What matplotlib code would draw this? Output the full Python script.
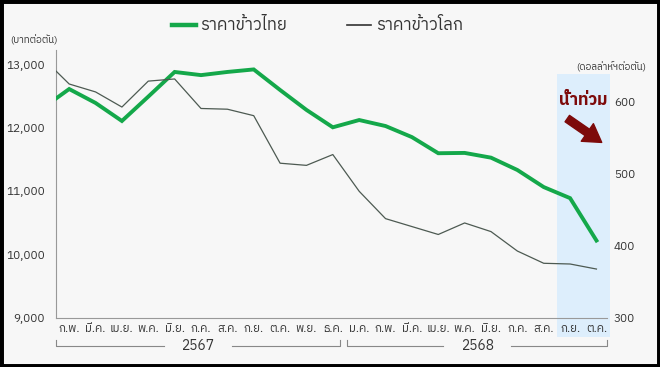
import numpy as np
import matplotlib
matplotlib.use("Agg")
import matplotlib.pyplot as plt
from matplotlib import font_manager
from matplotlib.ft2font import FT2Font
from matplotlib.patches import Rectangle, FancyArrowPatch
import matplotlib.transforms as mtransforms

# ---------------- data ----------------
months = ["ก.พ.", "มี.ค.", "เม.ย.", "พ.ค.", "มิ.ย.", "ก.ค.", "ส.ค.", "ก.ย.", "ต.ค.", "พ.ย.", "ธ.ค.",
          "ม.ค.", "ก.พ.", "มี.ค.", "เม.ย.", "พ.ค.", "มิ.ย.", "ก.ค.", "ส.ค.", "ก.ย.", "ต.ค."]
years = ["2567", "2568"]
year_months = [11, 10]
# first value is the start of the line at the left edge (half a month before ก.พ.)
thai_price = [12470, 12620, 12400, 12115, 12500, 12890, 12840, 12890, 12930, 12605, 12290, 12015,
              12130, 12035, 11860, 11605, 11610, 11535, 11340, 11070, 10895, 10225]
world_price = [643, 625, 614, 593, 629, 632, 591, 590, 581, 515, 512, 527,
               476, 438, 427, 416, 432, 420, 393, 376, 375, 368]
left_ticks = [9000, 10000, 11000, 12000, 13000]
right_ticks = [300, 400, 500, 600]
flood_months = [19, 20]

# ---------------- fonts ----------------
def find_thai_font():
    best = None
    for f in font_manager.fontManager.ttflist:
        try:
            cm = FT2Font(f.fname).get_charmap()
        except Exception:
            continue
        if 0x0E32 in cm and 0x0E49 in cm and 0x0E01 in cm:
            score = 0
            n = f.name.lower()
            if "thai" in n: score += 2
            if "sans" in n: score += 1
            if best is None or score > best[0]:
                best = (score, f.name)
    return best[1] if best else None

thai = find_thai_font()
fam = ([thai] if thai else []) + ["DejaVu Sans"]
plt.rcParams["font.family"] = fam

BG = "#f7f7f7"
GREEN = "#14a84a"
GRAY = "#4d5a52"
TXT = "#333333"
DARKRED = "#7d0a0a"

W, H = 660, 367
fig = plt.figure(figsize=(W / 100, H / 100), dpi=100, facecolor=BG)
ax = fig.add_axes([56 / W, 1 - 318 / H, (607 - 56) / W, (318 - 50) / H])
ax.set_facecolor("none")
ax2 = ax.twinx()

xs = np.concatenate([[-0.5], np.arange(len(months))])

ax.plot(xs, thai_price, color=GREEN, lw=2.8, solid_joinstyle="miter", zorder=5)
ax2.plot(xs, world_price, color=GRAY, lw=0.9, zorder=4)

ax.set_xlim(-0.5, 20.4)
ax.set_ylim(9000, 9000 + (318 - 50) / 63.25 * 1000)
ax2.set_ylim(300, 300 + (318 - 50) / 72.0 * 100)

ax.set_yticks(left_ticks)
ax.set_yticklabels([f"{v:,}" for v in left_ticks], fontsize=8.5, color=TXT)
ax2.set_yticks(right_ticks)
ax2.set_yticklabels([str(v) for v in right_ticks], fontsize=8.5, color=TXT)
ax.set_xticks(np.arange(len(months)))
ax.set_xticklabels(months, fontsize=8.3, color=TXT)
for a in (ax, ax2):
    a.tick_params(length=0)
    for s in a.spines.values():
        s.set_visible(False)
ax.tick_params(axis="y", pad=8)
ax.tick_params(axis="x", pad=4)
ax2.tick_params(axis="y", pad=5)
ax.spines["left"].set_visible(True)
ax.spines["left"].set_color("#999999")
ax.spines["bottom"].set_visible(True)
ax.spines["bottom"].set_color("#999999")

# flood shading
trans = mtransforms.blended_transform_factory(ax.transData, fig.transFigure)
x0 = flood_months[0] - 0.5
x1 = flood_months[-1] + 0.5
ax.add_patch(Rectangle((x0, 1 - 337 / H), x1 - x0, (337 - 74) / H, transform=trans,
                       facecolor="#ddeefc", edgecolor="none", zorder=0, clip_on=False))
ax.text(19.5, 1 - 100 / H, "น้ำท่วม", transform=trans, ha="center", va="center",
        fontsize=12, fontweight="bold", color=DARKRED, zorder=6)
arr = FancyArrowPatch((565 / W, 1 - 117 / H), (604 / W, 1 - 144 / H), transform=fig.transFigure,
                      arrowstyle="simple,head_width=1.1,head_length=0.9,tail_width=0.4",
                      mutation_scale=14, color=DARKRED, zorder=6)
fig.patches.append(arr)

# unit labels
fig.text(10 / W, 1 - 40 / H, "(บาทต่อตัน)", fontsize=7, color=TXT, ha="left", va="center")
fig.text(646 / W, 1 - 67 / H, "(ดอลล่าห์ฯต่อตัน)", fontsize=7, color=TXT, ha="right", va="center")

# legend
fig.add_artist(plt.Line2D([172 / W, 196 / W], [1 - 25 / H] * 2, color=GREEN, lw=3.2))
fig.text(200 / W, 1 - 25 / H, "ราคาข้าวไทย", fontsize=12, color=TXT, ha="left", va="center")
fig.add_artist(plt.Line2D([347 / W, 371 / W], [1 - 25 / H] * 2, color="#333333", lw=1.2))
fig.text(376 / W, 1 - 25 / H, "ราคาข้าวโลก", fontsize=12, color=TXT, ha="left", va="center")

# year brackets
yb = 1 - 346 / H
ytick = 1 - 340 / H
start = -0.5
for yr, n in zip(years, year_months):
    if start < 0:
        a0 = -0.5
    else:
        a0 = start + 0.05
    a1 = start + n - 0.22 if start < 0 else 20.4
    mid = (a0 + a1) / 2
    ax.plot([a0, a0, mid - 1.3], [ytick, yb, yb], transform=trans, color="#888888", lw=0.8, clip_on=False)
    ax.plot([mid + 1.3, a1, a1], [yb, yb, ytick], transform=trans, color="#888888", lw=0.8, clip_on=False)
    ax.text(mid, yb, yr, transform=trans, ha="center", va="center", fontsize=10, color=TXT)
    start = start + n

# frame
fig.patches.append(Rectangle((0, 0), 1, 1, transform=fig.transFigure, fill=False,
                             edgecolor="black", lw=5, zorder=10))

fig.savefig("out.png", dpi=100, facecolor=BG)
